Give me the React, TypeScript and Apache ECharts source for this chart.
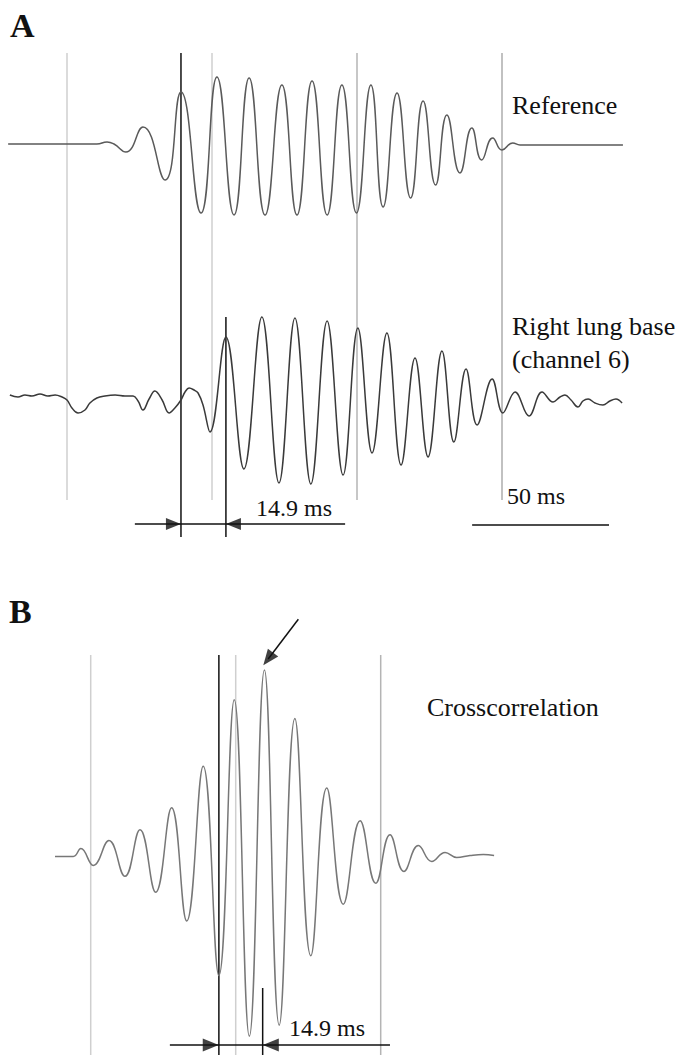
import React, { useEffect, useRef } from "react";
import * as echarts from "echarts";

// ---- Data (time in ms, amplitude in arbitrary units) ----
// Panel A: Reference signal
const referenceTrace: [number, number][] = [
  [-20.3, 0], [10.3, 0], [13.8, 2], [16.2, 0], [20.3, -8], [26.2, 17], [33.8, -36],
  [39.3, 52], [46.2, -69], [51.7, 67], [57.6, -71], [62.8, 66], [68.3, -71],
  [74.1, 59], [79.3, -71], [84.5, 63], [89.7, -71], [94.8, 59], [99.8, -69],
  [104.8, 59], [109.0, -63], [113.8, 51], [118.5, -54], [122.8, 43], [127.1, -41],
  [131.0, 29], [135.5, -29], [139.6, 16], [143.0, -16], [146.8, 6], [150.0, -6],
  [153.7, 1], [156.2, -1], [191.7, -1],
];
// Panel A: Right lung base (channel 6)
const lungTrace: [number, number][] = [
  [-19.7, 2], [-16.9, 0], [-14.5, 2], [-12.1, 1], [-9.3, 3], [-6.6, 1], [-4.1, 2],
  [-1.7, 0], [0, -3], [1.7, -11], [3.8, -16], [6.2, -13], [7.9, -6], [10.3, -1],
  [13.1, 1], [16.6, 2], [20.0, 1], [22.8, 1], [24.5, -4], [26.2, -13], [28.3, -2],
  [30.3, 6], [32.8, -3], [35.2, -16], [37.2, -11], [39.3, -3], [40.7, 5], [42.1, 9],
  [43.8, 7], [45.2, 4], [46.9, -8], [49.3, -35], [54.8, 60], [61.0, -72], [67.2, 80],
  [73.1, -86], [78.6, 79], [84.1, -87], [89.7, 76], [95.2, -78], [100.3, 69],
  [105.2, -56], [110.3, 64], [115.2, -68], [120.0, 39], [124.5, -60], [129.3, 46],
  [133.4, -45], [137.6, 28], [141.4, -28], [146.6, 18], [150.3, -16], [154.5, 5],
  [159.3, -19], [163.8, 5], [167.6, -5], [170.0, 0], [171.7, 2], [173.8, -3],
  [176.2, -10], [177.9, -4], [179.7, -2], [182.1, -6], [184.8, -8], [187.2, -4],
  [189.3, -2], [191.4, -6],
];
// Panel B: Crosscorrelation
const crossTrace: [number, number][] = [
  [-12.3, 0], [-6.0, 0], [-3.4, 8], [0.9, -9], [6.3, 16], [11.8, -20], [17.0, 27],
  [22.4, -36], [27.9, 49], [33.1, -65], [38.8, 91], [44.2, -120], [49.5, 158],
  [54.7, -181], [59.9, 188], [65.0, -170], [70.4, 139], [75.9, -100], [81.4, 69],
  [87.1, -48], [92.9, 36], [98.3, -27], [103.2, 22], [108.0, -15], [113.0, 11],
  [117.6, -5], [122.2, 4], [126.2, -1], [130.8, 1], [135.4, 2], [139.1, 1],
];

// Annotation times (ms)
const gridTimesA = [0, 50, 100, 150];
const gridColorsA = ["#cfcfcf", "#cfcfcf", "#b4b4b4", "#acacac"];
const gridTimesB = [0, 50, 100];
const gridColorsB = ["#cfcfcf", "#cfcfcf", "#b4b4b4"];
const delayA = [39.3, 54.8];
const delayB = [44.2, 59.3];
const delayLabel = "14.9 ms";
const scaleBarMs = [139.7, 186.9];
const scaleLabel = "50 ms";
const peakArrowB: [number, number][] = [[71.6, 619.3], [61.2, 659]];

const BLACK = "#111";
const SERIF = "'Liberation Serif', 'Times New Roman', serif";

export default function App() {
  const ref = useRef<HTMLDivElement>(null);
  useEffect(() => {
    if (!ref.current) return;
    const chart = echarts.init(ref.current, undefined, { renderer: "svg" });

    const seg = (pts: [number, number][], xi: number, color: string, w = 1.5) => ({
      type: "line",
      xAxisIndex: xi,
      yAxisIndex: xi,
      data: pts,
      symbol: "none",
      silent: true,
      lineStyle: { color, width: w },
      z: 3,
    });
    const tri = (t: number, y: number, rot: number, xi: number, size: number[]) => ({
      type: "scatter",
      xAxisIndex: xi,
      yAxisIndex: xi,
      data: [{ value: [t, y], symbolRotate: rot }],
      symbol: "triangle",
      symbolSize: size,
      itemStyle: { color: BLACK },
      silent: true,
      z: 5,
    });

    const series: any[] = [
      {
        type: "line", xAxisIndex: 0, yAxisIndex: 0, data: referenceTrace, symbol: "none",
        smooth: 0.5, lineStyle: { color: "#5a5a5a", width: 1.5 }, z: 4,
      },
      {
        type: "line", xAxisIndex: 1, yAxisIndex: 1, data: lungTrace, symbol: "none",
        smooth: 0.4, lineStyle: { color: "#3a3a3a", width: 1.5 }, z: 4,
      },
      {
        type: "line", xAxisIndex: 2, yAxisIndex: 2, data: crossTrace, symbol: "none",
        smooth: 0.45, lineStyle: { color: "#777", width: 1.5 }, z: 4,
      },
    ];
    // Panel A overlay (xAxisIndex 3)
    gridTimesA.forEach((t, i) => series.push(seg([[t, 53], [t, 500]], 3, gridColorsA[i])));
    series.push(seg([[delayA[0], 53], [delayA[0], 537]], 3, BLACK));
    series.push(seg([[delayA[1], 317], [delayA[1], 537]], 3, BLACK));
    series.push(seg([[23.4, 524], [95.9, 524]], 3, BLACK));
    series.push(tri(delayA[0] - 2.6, 524, -90, 3, [12, 15]));
    series.push(tri(delayA[1] + 2.6, 524, 90, 3, [12, 15]));
    series.push(seg([[scaleBarMs[0], 525], [scaleBarMs[1], 525]], 3, BLACK));
    // Panel B overlay (xAxisIndex 4)
    gridTimesB.forEach((t, i) => series.push(seg([[t, 655], [t, 1055]], 4, gridColorsB[i])));
    series.push(seg([[delayB[0], 655], [delayB[0], 1055]], 4, BLACK));
    series.push(seg([[delayB[1], 988], [delayB[1], 1055]], 4, BLACK));
    series.push(seg([[27.3, 1045], [103.2, 1045]], 4, BLACK));
    series.push(tri(delayB[0] - 2.8, 1045, -90, 4, [13, 16]));
    series.push(tri(delayB[1] + 2.8, 1045, 90, 4, [13, 16]));
    series.push(seg([peakArrowB[0], peakArrowB[1]], 4, BLACK));
    series.push(tri(61.2, 659, 142.5, 4, [13, 16]));

    const xa = (gi: number, min: number, max: number) => ({
      type: "value", gridIndex: gi, min, max, show: false,
    });
    const ya = (gi: number, min: number, max: number, inverse = false) => ({
      type: "value", gridIndex: gi, min, max, inverse, show: false,
    });

    const txt = (text: string, x: number, y: number, size = 26, bold = false) => ({
      type: "text",
      x, y,
      style: {
        text, fill: "#111", font: `${bold ? "bold " : ""}${size}px ${SERIF}`,
        align: "left", verticalAlign: "middle",
      },
      silent: true,
    });

    chart.setOption({
      animation: false,
      backgroundColor: "#fff",
      grid: [
        { left: 9, top: 44, width: 638, height: 200 },
        { left: 9, top: 297, width: 638, height: 200 },
        { left: 32.7, top: 658, width: 638, height: 400 },
        { left: 9, top: 0, width: 638, height: 560 },
        { left: 32.7, top: 560, width: 638, height: 495 },
      ],
      xAxis: [xa(0, -20, 200), xa(1, -20, 200), xa(2, -20, 200), xa(3, -20, 200), xa(4, -20, 200)],
      yAxis: [ya(0, -100, 100), ya(1, -100, 100), ya(2, -200, 200), ya(3, 0, 560, true), ya(4, 560, 1055, true)],
      series,
      graphic: [
        txt("A", 10, 25, 34, true),
        txt("B", 9, 611, 34, true),
        txt("Reference", 512, 105),
        txt("Right lung base", 512, 326),
        txt("(channel 6)", 512, 359),
        txt(delayLabel, 256, 508, 24),
        txt(scaleLabel, 507, 496, 24),
        txt("Crosscorrelation", 427, 707),
        txt(delayLabel, 289, 1028, 24),
      ],
    });
    return () => chart.dispose();
  }, []);
  return (
    <div
      ref={ref}
      style={{ position: "absolute", left: 0, top: 0, width: 681, height: 1055 }}
    />
  );
}
